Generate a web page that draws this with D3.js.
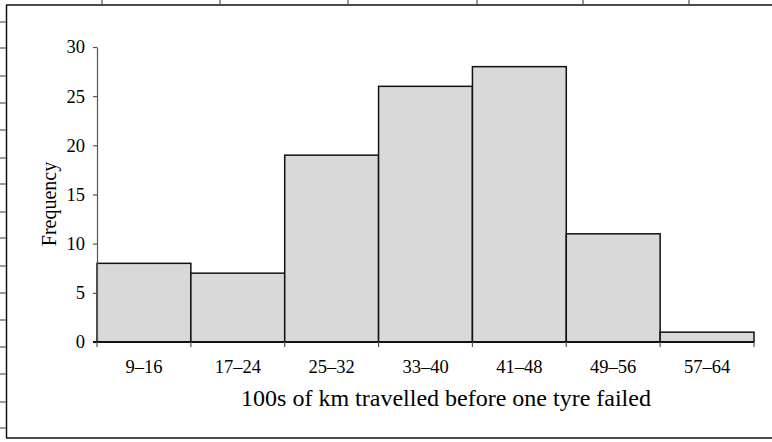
<!DOCTYPE html>
<html>
<head>
<meta charset="utf-8">
<script src="https://cdn.jsdelivr.net/npm/d3@7"></script>
<style>
  body { margin: 0; background: #fff; }
  svg { display: block; }
  text { font-family: "Liberation Serif", "Times New Roman", serif; fill: #000; }
</style>
</head>
<body>
<svg id="chart" width="772" height="442"></svg>
<script>
// histogram data
var bins = ["9–16", "17–24", "25–32", "33–40", "41–48", "49–56", "57–64"];
var freq = [8, 7, 19, 26, 28, 11, 1];
var yTicks = [0, 5, 10, 15, 20, 25, 30];

var svg = d3.select("#chart");
var plotLeft = 97, plotRight = 754, plotTop = 47, plotBottom = 342;

// outer frame, partly cut off like the scan
var frame = svg.append("g");
frame.append("line").attr("x1", 6).attr("x2", 772).attr("y1", 5).attr("y2", 5)
    .style("stroke", "#111").style("stroke-width", 1.5);
frame.append("line").attr("x1", 6.5).attr("x2", 6.5).attr("y1", 5).attr("y2", 438)
    .style("stroke", "#111").style("stroke-width", 1.5);
frame.append("line").attr("x1", 6).attr("x2", 772).attr("y1", 438).attr("y2", 438)
    .style("stroke", "#111").style("stroke-width", 1.5);
[102, 220, 348, 477, 583, 689].forEach(function (x) {
    frame.append("line").attr("x1", x).attr("x2", x).attr("y1", 0).attr("y2", 5)
        .style("stroke", "#333").style("stroke-width", 1);
});
[22, 48, 76, 103, 130, 158, 184, 212, 238, 266, 293, 320, 347, 374, 402, 428].forEach(function (y) {
    frame.append("line").attr("x1", 0).attr("x2", 6).attr("y1", y).attr("y2", y)
        .style("stroke", "#777").style("stroke-width", 1.5);
});

var x = d3.scaleBand().domain(bins).range([plotLeft, plotRight]).padding(0);
var y = d3.scaleLinear().domain([0, 30]).range([plotBottom, plotTop]);

// bars
svg.append("g").selectAll("rect")
    .data(freq)
    .enter()
    .append("rect")
    .attr("x", function (d, i) { return x(bins[i]); })
    .attr("y", function (d) { return y(d); })
    .attr("width", x.bandwidth())
    .attr("height", function (d) { return y(0) - y(d); })
    .style("fill", "#d9d9d9")
    .style("stroke", "#111")
    .style("stroke-width", 1.5);

// y axis
var yAxis = svg.append("g")
    .attr("transform", "translate(" + plotLeft + ",0)")
    .call(d3.axisLeft(y).tickValues(yTicks).tickSize(4).tickPadding(8).tickSizeOuter(0));
yAxis.select(".domain").style("stroke", "#555").style("stroke-width", 1.2);
yAxis.selectAll(".tick line").style("stroke", "#555").style("stroke-width", 1.2);
yAxis.selectAll("text").style("font-size", "18.5px").style("font-family", "Liberation Serif, serif");

// x axis: ticks at bar edges, labels centred in bins
var edges = bins.map(function (b) { return x(b); }).concat([plotRight]);
var xAxis = svg.append("g");
xAxis.append("line").attr("x1", plotLeft - 4).attr("x2", plotRight).attr("y1", plotBottom).attr("y2", plotBottom)
    .style("stroke", "#111").style("stroke-width", 2);
xAxis.selectAll("line.edge")
    .data(edges)
    .enter()
    .append("line")
    .attr("class", "edge")
    .attr("x1", function (d) { return d; })
    .attr("x2", function (d) { return d; })
    .attr("y1", plotBottom)
    .attr("y2", plotBottom + 5)
    .style("stroke", "#555")
    .style("stroke-width", 1.2);
xAxis.selectAll("text")
    .data(bins)
    .enter()
    .append("text")
    .attr("x", function (d) { return x(d) + x.bandwidth() / 2; })
    .attr("y", 373)
    .attr("text-anchor", "middle")
    .style("font-size", "18.5px")
    .text(function (d) { return d; });

// axis titles
svg.append("text")
    .attr("x", 446)
    .attr("y", 406)
    .attr("text-anchor", "middle")
    .style("font-size", "24px")
    .text("100s of km travelled before one tyre failed");

svg.append("text")
    .attr("transform", "translate(56,204) rotate(-90)")
    .attr("text-anchor", "middle")
    .style("font-size", "20px")
    .text("Frequency");
</script>
</body>
</html>
